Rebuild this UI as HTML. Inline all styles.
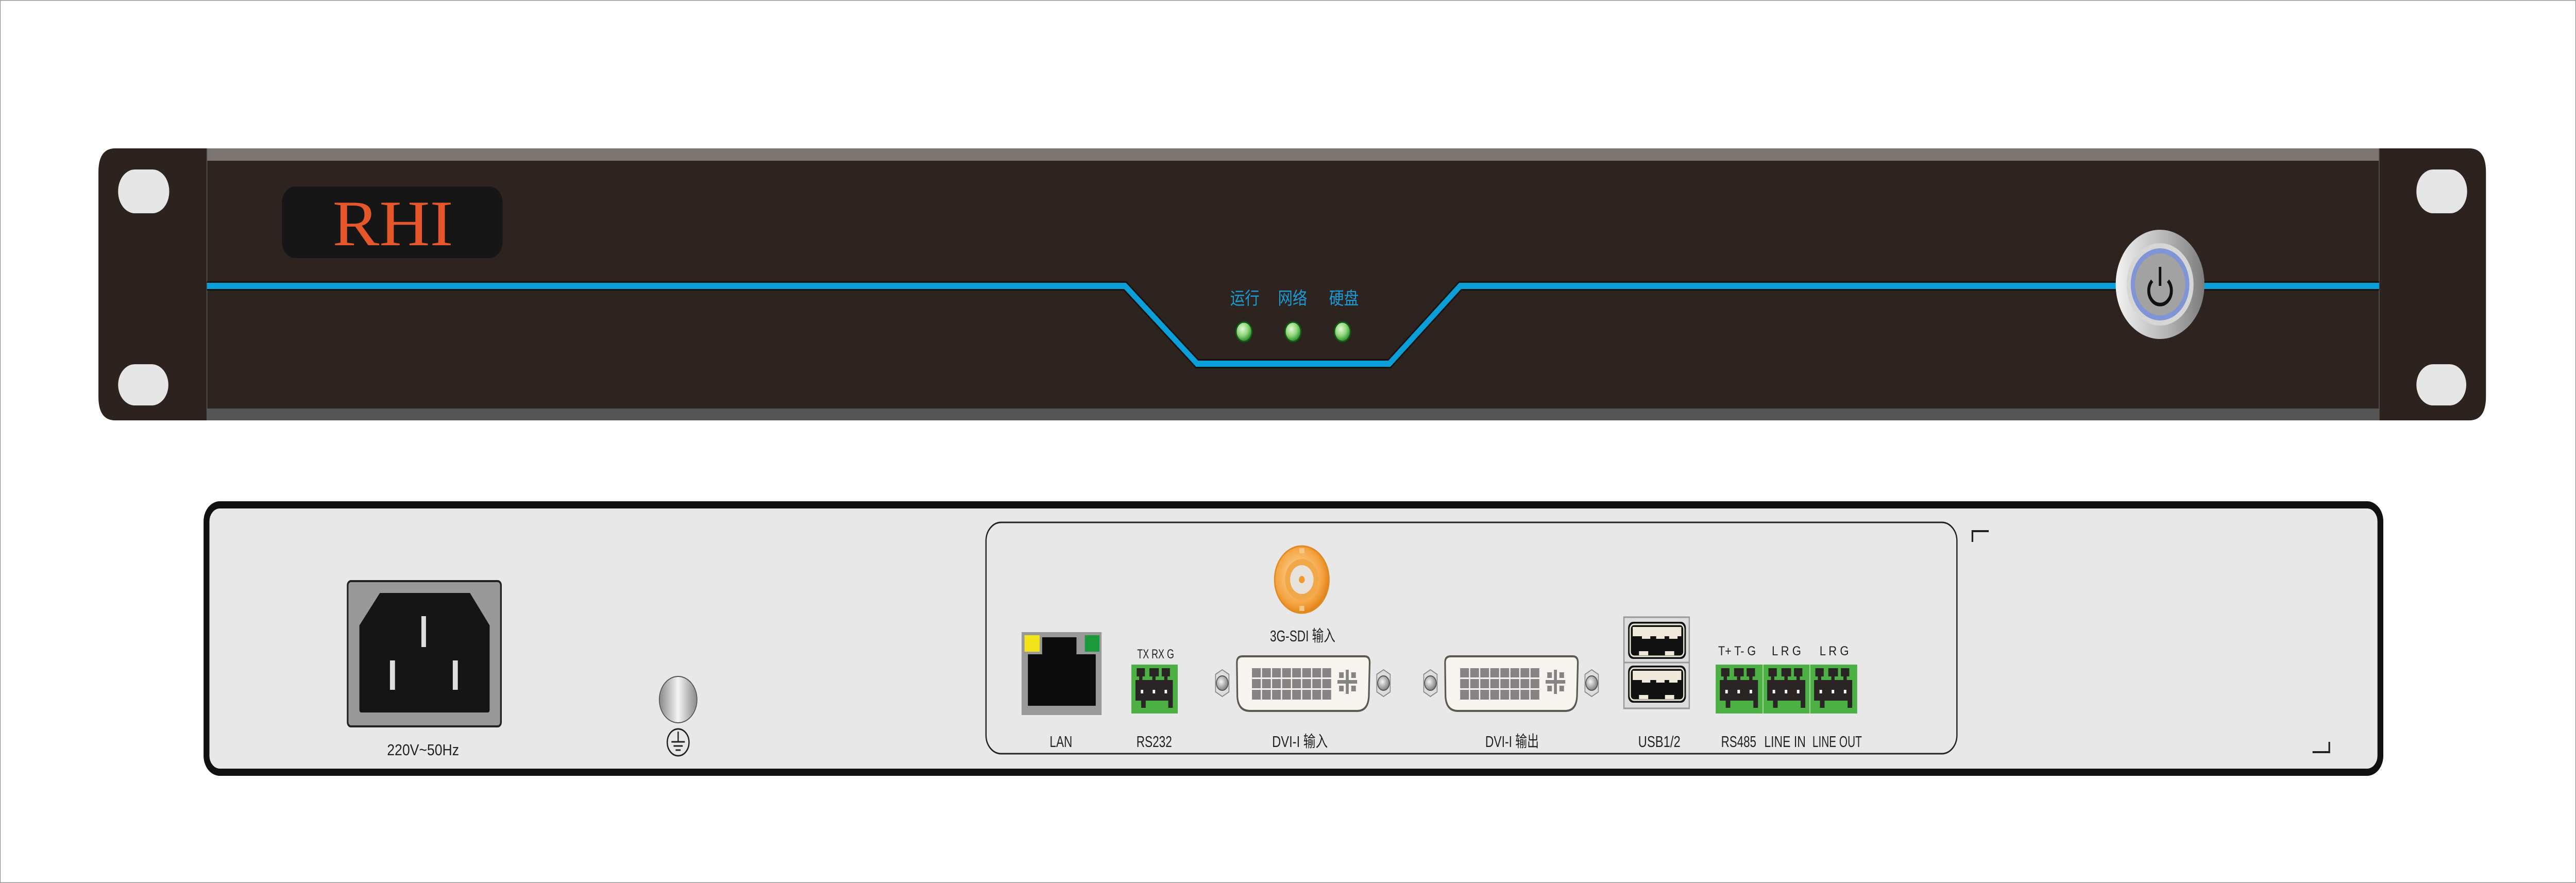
<!DOCTYPE html>
<html><head><meta charset="utf-8"><style>
html,body{margin:0;padding:0;background:#fff;width:100%;height:100%;overflow:hidden}
svg{display:block;width:100vw;height:100vh}
text{font-family:"Liberation Sans Narrow","Liberation Sans","Noto Sans CJK SC",sans-serif}
</style></head><body>
<svg viewBox="0 0 6150 1714" preserveAspectRatio="none" xmlns="http://www.w3.org/2000/svg">
<defs>
<radialGradient id="led" cx="0.4" cy="0.35" r="0.7"><stop offset="0" stop-color="#e6f7d8"/><stop offset="0.5" stop-color="#8fd77a"/><stop offset="1" stop-color="#1d7a1d"/></radialGradient>
<linearGradient id="btn" x1="0" y1="0" x2="1" y2="0"><stop offset="0" stop-color="#f2f2f2"/><stop offset="0.5" stop-color="#bdbdbd"/><stop offset="1" stop-color="#7c7c7c"/></linearGradient>
<radialGradient id="screw" cx="0.4" cy="0.4" r="0.7"><stop offset="0" stop-color="#f5f5f5"/><stop offset="1" stop-color="#6e6e6e"/></radialGradient>
<radialGradient id="bnc" cx="0.45" cy="0.45" r="0.6"><stop offset="0" stop-color="#fde2b0"/><stop offset="0.7" stop-color="#f5a442"/><stop offset="1" stop-color="#d97a12"/></radialGradient>
<linearGradient id="gnd" x1="0" y1="0" x2="1" y2="0"><stop offset="0" stop-color="#888"/><stop offset="0.5" stop-color="#f4f4f4"/><stop offset="1" stop-color="#888"/></linearGradient>
<g id="term">
 <rect x="0" y="0" width="113" height="95" fill="#4cb045"/>
 <rect x="13" y="7" width="20" height="16" fill="#2a2424"/><rect x="44" y="7" width="23" height="16" fill="#2a2424"/><rect x="74" y="7" width="20" height="16" fill="#2a2424"/>
 <rect x="19" y="23" width="8" height="8" fill="#2a2424"/><rect x="51" y="23" width="8" height="8" fill="#2a2424"/><rect x="80" y="23" width="8" height="8" fill="#2a2424"/>
 <rect x="10" y="30" width="91" height="40" fill="#2a2424"/>
 <rect x="24" y="70" width="11" height="14" fill="#2a2424"/><rect x="90" y="70" width="11" height="14" fill="#2a2424"/>
 <rect x="23" y="49" width="6" height="7" fill="#fff"/><rect x="52" y="49" width="6" height="7" fill="#fff"/><rect x="81" y="49" width="6" height="7" fill="#fff"/>
</g>
<g id="dvi">
 <polygon points="2918,1300 2934,1309 2934,1343 2918,1352 2902,1343 2902,1309" fill="#ddd" stroke="#888" stroke-width="2"/>
 <circle cx="2918" cy="1326" r="14" fill="url(#screw)" stroke="#555" stroke-width="2"/>
 <polygon points="3303,1300 3319,1309 3319,1343 3303,1352 3287,1343 3287,1309" fill="#ddd" stroke="#888" stroke-width="2"/>
 <circle cx="3303" cy="1326" r="14" fill="url(#screw)" stroke="#555" stroke-width="2"/>
 <path d="M2966,1274 L3258,1274 Q3270,1274 3270,1286 L3268,1352 Q3266,1380 3240,1380 L2984,1380 Q2956,1380 2954,1352 L2953,1286 Q2953,1274 2966,1274 Z" fill="#f7f5ef" stroke="#5e5852" stroke-width="4"/>
 <g fill="#858383">
  <rect x="2989" y="1297" width="21" height="18"/><rect x="3013" y="1297" width="21" height="18"/><rect x="3037" y="1297" width="21" height="18"/><rect x="3061" y="1297" width="21" height="18"/><rect x="3085" y="1297" width="21" height="18"/><rect x="3109" y="1297" width="21" height="18"/><rect x="3133" y="1297" width="21" height="18"/><rect x="3157" y="1297" width="21" height="18"/>
  <rect x="2989" y="1318" width="21" height="18"/><rect x="3013" y="1318" width="21" height="18"/><rect x="3037" y="1318" width="21" height="18"/><rect x="3061" y="1318" width="21" height="18"/><rect x="3085" y="1318" width="21" height="18"/><rect x="3109" y="1318" width="21" height="18"/><rect x="3133" y="1318" width="21" height="18"/><rect x="3157" y="1318" width="21" height="18"/>
  <rect x="2989" y="1339" width="21" height="19"/><rect x="3013" y="1339" width="21" height="19"/><rect x="3037" y="1339" width="21" height="19"/><rect x="3061" y="1339" width="21" height="19"/><rect x="3085" y="1339" width="21" height="19"/><rect x="3109" y="1339" width="21" height="19"/><rect x="3133" y="1339" width="21" height="19"/><rect x="3157" y="1339" width="21" height="19"/>
  <rect x="3193" y="1320" width="47" height="7"/><rect x="3213" y="1300" width="7" height="47"/>
  <rect x="3197" y="1305" width="11" height="11"/><rect x="3226" y="1305" width="11" height="11"/><rect x="3197" y="1331" width="11" height="11"/><rect x="3226" y="1331" width="11" height="11"/>
 </g>
</g>
<g id="usbport">
 <rect x="3887" y="0" width="138" height="72" rx="12" fill="#111"/>
 <rect x="3892" y="5" width="128" height="62" rx="9" fill="none" stroke="#efe9dc" stroke-width="3"/>
 <path d="M3898,10 L4014,10 L4014,28 L4005,28 L4005,33 L3985,33 L3985,28 L3974,28 L3974,33 L3954,33 L3954,28 L3940,28 L3940,33 L3920,33 L3920,28 L3898,28 Z" fill="#efe9dc"/>
 <rect x="3913" y="57" width="22" height="8" fill="#efe9dc"/><rect x="3975" y="57" width="22" height="8" fill="#efe9dc"/>
</g>
</defs>

<rect x="0.5" y="0.5" width="6149" height="1713" fill="#fff" stroke="#9a9a9a" stroke-width="2"/>

<!-- FRONT PANEL -->
<path d="M275,288 L494,288 L494,816 L275,816 Q235,816 235,770 L235,334 Q235,288 275,288 Z" fill="#2c221e"/>
<path d="M5680,288 L5895,288 Q5935,288 5935,334 L5935,770 Q5935,816 5895,816 L5680,816 Z" fill="#2c221e"/>
<rect x="494" y="288" width="5186" height="528" fill="#2e241f"/>
<rect x="494" y="288" width="5186" height="24" fill="#7c7673"/>
<rect x="494" y="793" width="5186" height="23" fill="#555"/>
<line x1="494" y1="288" x2="494" y2="816" stroke="#555" stroke-width="2"/>
<line x1="5680" y1="288" x2="5680" y2="816" stroke="#555" stroke-width="2"/>
<rect x="282" y="329" width="122" height="85" rx="40" ry="42" fill="#e6e6e6"/>
<rect x="282" y="707" width="120" height="80" rx="40" ry="40" fill="#e6e6e6"/>
<rect x="5769" y="329" width="121" height="85" rx="40" ry="42" fill="#e6e6e6"/>
<rect x="5769" y="707" width="119" height="80" rx="40" ry="40" fill="#e6e6e6"/>
<rect x="673" y="362" width="527" height="139" rx="32" fill="#161616"/>
<text x="938" y="476" text-anchor="middle" style="font-family:'Liberation Serif',serif" font-size="126" fill="#e5562a" textLength="288" lengthAdjust="spacingAndGlyphs">RHI</text>
<polyline points="494,555 2686,555 2858,706 3317,706 3486,555 5680,555" fill="none" stroke="#111" stroke-width="18"/>
<polyline points="494,555 2686,555 2858,706 3317,706 3486,555 5680,555" fill="none" stroke="#0a9fd8" stroke-width="12"/>
<g fill="#1a9ad6" font-size="34">
<text x="2937" y="591" textLength="70" lengthAdjust="spacingAndGlyphs" style="font-family:'Noto Sans CJK SC',sans-serif">运行</text>
<text x="3051" y="591" textLength="70" lengthAdjust="spacingAndGlyphs" style="font-family:'Noto Sans CJK SC',sans-serif">网络</text>
<text x="3173" y="591" textLength="71" lengthAdjust="spacingAndGlyphs" style="font-family:'Noto Sans CJK SC',sans-serif">硬盘</text>
</g>
<circle cx="2970" cy="644" r="19" fill="url(#led)" stroke="#0f5a12" stroke-width="3"/>
<circle cx="3087" cy="644" r="19" fill="url(#led)" stroke="#0f5a12" stroke-width="3"/>
<circle cx="3205" cy="644" r="19" fill="url(#led)" stroke="#0f5a12" stroke-width="3"/>
<circle cx="5157" cy="552" r="106" fill="url(#btn)"/>
<circle cx="5157" cy="552" r="80" fill="#d6d6d6"/>
<circle cx="5157" cy="552" r="70" fill="#7f95d6"/>
<circle cx="5157" cy="552" r="60" fill="#a2a2a2"/>
<path d="M5138,545 A27,27 0 1 0 5176,545" fill="none" stroke="#111" stroke-width="7"/>
<line x1="5157" y1="518" x2="5157" y2="555" stroke="#111" stroke-width="6"/>

<!-- REAR PANEL -->
<rect x="493" y="980" width="5190" height="519" rx="32" fill="#e8e8e8" stroke="#111" stroke-width="14"/>
<rect x="2354" y="1014" width="2318" height="449" rx="36" fill="none" stroke="#222" stroke-width="3"/>
<rect x="830" y="1128" width="366" height="282" rx="8" fill="#999" stroke="#222" stroke-width="4"/>
<path d="M907,1151 L1122,1151 L1169,1214 L1169,1378 Q1169,1383 1164,1383 L863,1383 Q858,1383 858,1378 L858,1214 Z" fill="#151515"/>
<rect x="1006" y="1196" width="11" height="60" fill="#ddd"/>
<rect x="931" y="1282" width="12" height="57" fill="#ddd"/>
<rect x="1081" y="1282" width="12" height="57" fill="#ddd"/>
<text x="924" y="1466" font-size="31" fill="#222" textLength="172" lengthAdjust="spacingAndGlyphs">220V~50Hz</text>
<circle cx="1619" cy="1358" r="45" fill="url(#gnd)" stroke="#555" stroke-width="2"/>
<circle cx="1619" cy="1441" r="26" fill="none" stroke="#222" stroke-width="3"/>
<line x1="1619" y1="1420" x2="1619" y2="1440" stroke="#222" stroke-width="3"/>
<line x1="1603" y1="1440" x2="1635" y2="1440" stroke="#222" stroke-width="3"/>
<line x1="1608" y1="1448" x2="1630" y2="1448" stroke="#222" stroke-width="3"/>
<line x1="1613" y1="1456" x2="1625" y2="1456" stroke="#222" stroke-width="3"/>
<rect x="2439" y="1227" width="191" height="161" fill="#9a9a9a"/>
<path d="M2454,1270 L2488,1270 L2488,1237 L2570,1237 L2570,1270 L2616,1270 L2616,1370 L2454,1370 Z" fill="#0c0c0c"/>
<rect x="2446" y="1233" width="36" height="32" fill="#f3e41a"/>
<rect x="2590" y="1233" width="35" height="32" fill="#1b9a3c"/>
<text x="2506" y="1450" font-size="31" fill="#222" textLength="54" lengthAdjust="spacingAndGlyphs">LAN</text>
<text x="2715" y="1278" font-size="25" fill="#222" textLength="88" lengthAdjust="spacingAndGlyphs">TX  RX  G</text>
<use href="#term" transform="translate(2701,1290) scale(0.98,1)"/>
<text x="2713" y="1450" font-size="31" fill="#222" textLength="85" lengthAdjust="spacingAndGlyphs">RS232</text>
<circle cx="3108" cy="1125" r="65" fill="url(#bnc)" stroke="#e08a20" stroke-width="3"/>
<circle cx="3108" cy="1125" r="40" fill="#f0a849"/>
<circle cx="3108" cy="1125" r="28" fill="#e7e2dc"/>
<circle cx="3108" cy="1125" r="7" fill="#f39a2e"/>
<rect x="3102" y="1064" width="12" height="10" fill="#f8c880"/>
<rect x="3102" y="1176" width="12" height="10" fill="#f8c880"/>
<text x="3032" y="1245" font-size="31" fill="#222" textLength="156" lengthAdjust="spacingAndGlyphs">3G-SDI 输入</text>
<use href="#dvi"/>
<use href="#dvi" transform="translate(497,0)"/>
<text x="3037" y="1450" font-size="31" fill="#222" textLength="133" lengthAdjust="spacingAndGlyphs">DVI-I 输入</text>
<text x="3546" y="1450" font-size="31" fill="#222" textLength="128" lengthAdjust="spacingAndGlyphs">DVI-I 输出</text>
<rect x="3877" y="1198" width="156" height="177" fill="#ddd" stroke="#999" stroke-width="3"/>
<line x1="3877" y1="1286" x2="4033" y2="1286" stroke="#999" stroke-width="3"/>
<use href="#usbport" transform="translate(0,1207)"/>
<use href="#usbport" transform="translate(0,1292)"/>
<text x="3911" y="1450" font-size="31" fill="#222" textLength="101" lengthAdjust="spacingAndGlyphs">USB1/2</text>
<use href="#term" transform="translate(4096,1290)"/>
<use href="#term" transform="translate(4209,1290)"/>
<use href="#term" transform="translate(4321,1290)"/>
<line x1="4209" y1="1290" x2="4209" y2="1385" stroke="#b8e0b0" stroke-width="2"/>
<line x1="4321" y1="1290" x2="4321" y2="1385" stroke="#b8e0b0" stroke-width="2"/>
<text x="4102" y="1272" font-size="25" fill="#222" textLength="90" lengthAdjust="spacingAndGlyphs">T+ T- G</text>
<text x="4230" y="1272" font-size="25" fill="#222" textLength="70" lengthAdjust="spacingAndGlyphs">L R G</text>
<text x="4344" y="1272" font-size="25" fill="#222" textLength="70" lengthAdjust="spacingAndGlyphs">L R G</text>
<text x="4109" y="1450" font-size="31" fill="#222" textLength="84" lengthAdjust="spacingAndGlyphs">RS485</text>
<text x="4212" y="1450" font-size="31" fill="#222" textLength="99" lengthAdjust="spacingAndGlyphs">LINE IN</text>
<text x="4327" y="1450" font-size="31" fill="#222" textLength="118" lengthAdjust="spacingAndGlyphs">LINE OUT</text>
<path d="M4709,1052 L4709,1031 L4748,1031" fill="none" stroke="#222" stroke-width="4"/>
<path d="M5521,1460 L5561,1460 L5561,1440" fill="none" stroke="#222" stroke-width="4"/>
</svg>
</body></html>
